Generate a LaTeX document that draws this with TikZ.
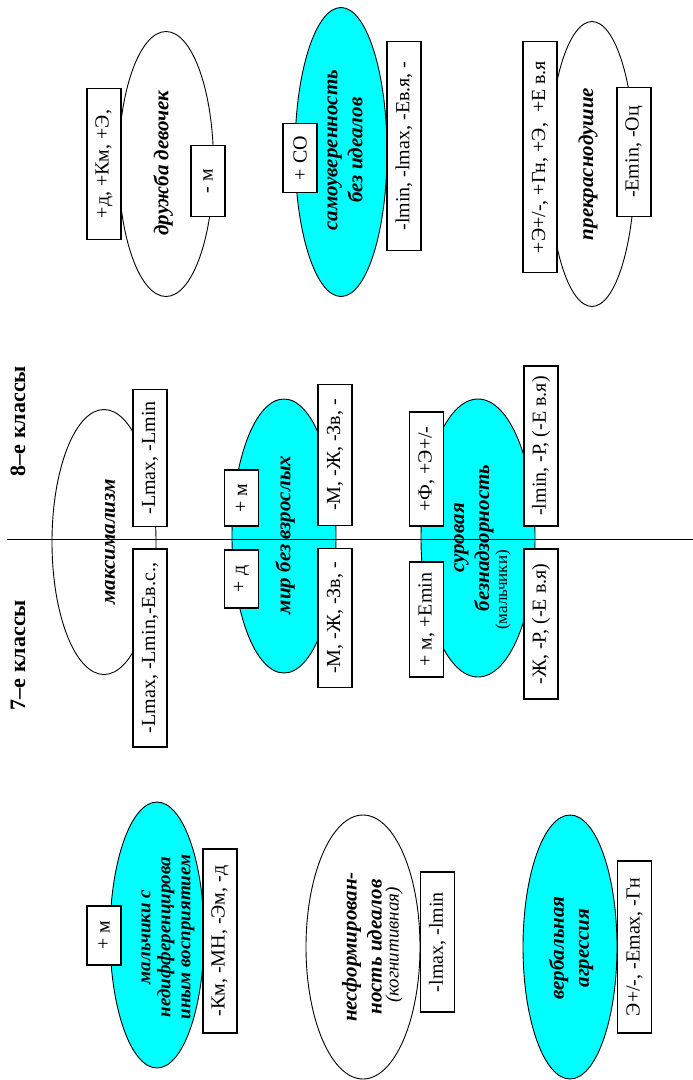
\documentclass[tikz,border=0pt]{standalone}
\usepackage{fontspec}
\setmainfont{Liberation Serif}
\usetikzlibrary{shapes.geometric}
\definecolor{aqua}{RGB}{0,255,255}

\begin{document}
\begin{tikzpicture}[x=1pt, y=-1pt,
	blob/.style={draw, ellipse, inner sep=0pt, line width=0.9pt},
	blobc/.style={blob, fill=aqua},
	cbox/.style={draw, fill=white, rotate=90, line width=1.1pt, minimum height=34pt, inner sep=2pt, font=\fontsize{20}{22}\selectfont},
	etext/.style={rotate=90, align=center, font=\fontsize{21}{25}\selectfont\bfseries\itshape},
	klass/.style={rotate=90, font=\fontsize{22}{24}\selectfont\bfseries}]

	\useasboundingbox (0,0) rectangle (693,1080);

	% 8-e klassy
	\node[blob, minimum width=95pt, minimum height=265pt] (druzhba) at (166,164) {};
	\node[blobc, minimum width=92pt, minimum height=289pt] (samouv) at (341,152) {};
	\node[blob, minimum width=86pt, minimum height=285pt] (prekr) at (592,164) {};

	% obshchie
	\node[blob, minimum width=104pt, minimum height=265pt] (maks) at (104,542) {};
	\node[blobc, minimum width=104pt, minimum height=274pt] (mir) at (284,536) {};
	\node[blobc, minimum width=114pt, minimum height=278pt] (surov) at (478,538) {};

	% 7-e klassy
	\node[blobc, minimum width=94pt, minimum height=266pt] (malch) at (157,935) {};
	\node[blob, minimum width=114pt, minimum height=264pt] (nesf) at (363,947) {};
	\node[blobc, minimum width=94pt, minimum height=264pt] (verb) at (570,947) {};

	\coordinate (axl) at (7,539);
	\coordinate (axr) at (693,539);
	\draw[line width=1pt] (axl) -- (axr);

	\node[klass] (k8) at (18,421) {8–е классы};
	\node[klass] (k7) at (18,655) {7–е классы};

	\node[etext] (druzhbat) at (163,163) {дружба девочек};
	\node[etext] (samouvt) at (345,150) {самоуверенность\\без идеалов};
	\node[etext] (prekrt) at (588,164) {прекраснодушие};
	\node[etext] (makst) at (110,542) {максимализм};
	\node[etext] (mirt) at (285,535) {мир без взрослых};
	\node[etext] (surovt) at (474,538) {суровая\\безнадзорность};
	\node[rotate=90, font=\fontsize{17}{19}\selectfont] (surovm) at (503,590) {(мальчики)};
	\node[etext, font=\fontsize{19}{20}\selectfont\bfseries\itshape] (malcht) at (168,937) {мальчики с\\недифференцирова\\иным восприятием};
	\node[etext] (nesft) at (362,947) {несформирован-\\ность идеалов};
	\node[rotate=90, font=\fontsize{19}{21}\selectfont\itshape] (nesfk) at (394,945) {(когнитивная)};
	\node[etext] (verbt) at (571,948) {вербальная\\агрессия};

	% boxes
	\node[cbox, minimum width=151pt] (b1) at (104,164) {+д, +Км, +Э,};
	\node[cbox, minimum width=71pt] (b2) at (208,181) {- м};
	\node[cbox, minimum width=69pt] (b3) at (300,158) {+ СО};
	\node[cbox, minimum width=209pt] (b4) at (404,146) {-lmin, -lmax, -Ев.я, -};
	\node[cbox, minimum width=231pt] (b5) at (540,157) {+Э+/-, +Гн, +Э,\ \ +Е в.я};
	\node[cbox, minimum width=129pt] (b6) at (634,152) {-Emin, -Оц};
	\node[cbox, minimum width=137pt] (b7) at (150,458) {-Lmax, -Lmin};
	\node[cbox, minimum width=198pt] (b8) at (150,648) {-Lmax, -Lmin,-Ев.с.,};
	\node[cbox, minimum width=56pt] (b9) at (241.5,498) {+ м};
	\node[cbox, minimum width=58pt] (b10) at (241.5,579) {+ д};
	\node[cbox, minimum width=141pt] (b11) at (335,455) {-М, -Ж, -Зв, -};
	\node[cbox, minimum width=139pt] (b12) at (335,618) {-М, -Ж, -Зв, -};
	\node[cbox, minimum width=114pt] (b13) at (426.5,469) {+Ф, +Э+/-};
	\node[cbox, minimum width=115pt] (b14) at (426.5,619.5) {+ м, +Emin};
	\node[cbox, minimum width=160pt] (b15) at (541,446) {-lmin, -Р, (-Е в.я)};
	\node[cbox, minimum width=150pt] (b16) at (541,624) {-Ж, -Р, (-Е в.я)};
	\node[cbox, minimum width=59pt] (b17) at (104,935.5) {+ м};
	\node[cbox, minimum width=184pt] (b18) at (220,941) {-Км, -МН, -Эм, -д};
	\node[cbox, minimum width=140pt] (b19) at (437.5,942) {-lmax, -lmin};
	\node[cbox, minimum width=172pt] (b20) at (634.5,947) {Э+/-, -Emax, -Гн};
\end{tikzpicture}
\end{document}
